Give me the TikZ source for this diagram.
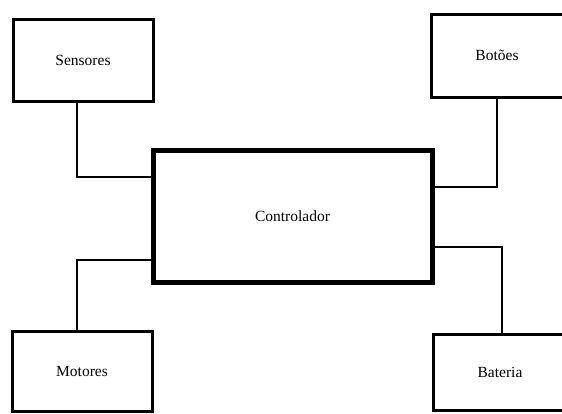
\documentclass[tikz,border=0pt]{standalone}
\usepackage{fontspec}
\setmainfont{Liberation Serif}
\begin{document}
\begin{tikzpicture}[x=1pt,y=-1pt,
    bloco/.style={draw,line width=3pt,inner sep=0pt,font=\fontsize{15.5}{18}\selectfont},
    fio/.style={line width=2pt}]
      \useasboundingbox (0,0) rectangle (562,413);
      \node [bloco,minimum width=140pt,minimum height=82pt] (sens) at (83,60) {Sensores};
      \node [bloco,minimum width=132pt,minimum height=83pt] (bot) at (497,55.5) {Botões};
      \node [bloco,line width=5pt,minimum width=279pt,minimum height=132pt] (ctrl) at (292.5,216) {Controlador};
      \node [bloco,minimum width=140pt,minimum height=80pt] (mot) at (82,371) {Motores};
      \node [bloco,minimum width=134pt,minimum height=76pt] (bat) at (500,372) {Bateria};

      \draw [fio] ([xshift=-6pt]sens.south) |- ([yshift=-29pt]ctrl.north west);
      \draw [fio] (bot.south) |- ([yshift=-39pt]ctrl.north east);
      \draw [fio] ([yshift=25pt]ctrl.south west) -| ([xshift=-5pt]mot.north);
      \draw [fio] ([yshift=38pt]ctrl.south east) -| ([xshift=2pt]bat.north);

%      \node at (292.5,216) {};
    \end{tikzpicture}
\end{document}
